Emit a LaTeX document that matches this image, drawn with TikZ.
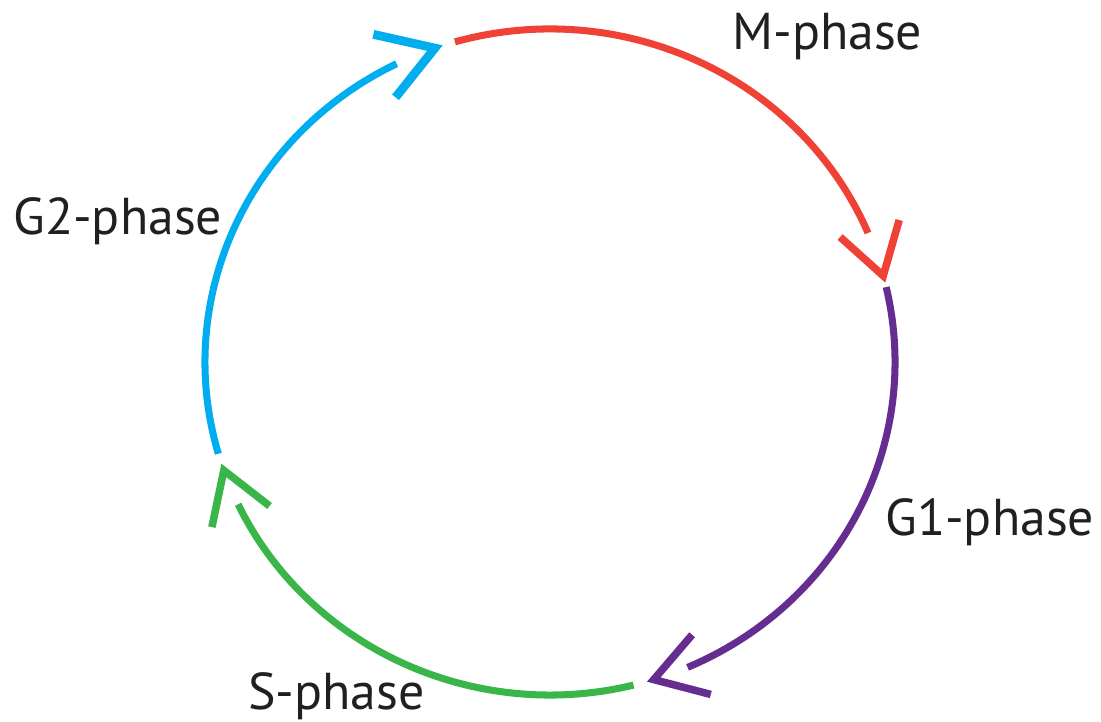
\documentclass[tikz,border=0pt]{standalone}
\usepackage{fontspec}
\setmainfont{PT Sans}
\usetikzlibrary{calc}
\definecolor{mred}{HTML}{EF4136}
\definecolor{gonepurple}{HTML}{662D91}
\definecolor{sgreen}{HTML}{39B54A}
\definecolor{gtwoblue}{HTML}{00AEEF}
\definecolor{labelink}{HTML}{231F20}
% open arrow head on the cycle: angle, arm length, colour
\newcommand{\phasetip}[3]{%
  \path (c) ++(#1:345 and 333) coordinate (tip)
        (c) ++(#1+1:345 and 333) coordinate (back);
  \draw[head, #3] ($(tip)!#2!32:(back)$) -- (tip) -- ($(tip)!#2!-32:(back)$);}
\begin{document}
\begin{tikzpicture}[x=0.02cm, y=0.02cm,
    phase/.style={line width=4pt},
    head/.style={line width=4.3pt, miter limit=10},
    phaselabel/.style={inner sep=0pt, anchor=base west, text=labelink,
      font=\fontsize{29.5}{35}\selectfont}]
  \useasboundingbox (0,0) rectangle (1101,722);
  \coordinate (c) at (550,360);
  % the four arcs
  \draw[phase, mred] (c) ++(106:345 and 333)
    arc[start angle=106, end angle=22.8, x radius=345, y radius=333];
  \draw[phase, gonepurple] (c) ++(13:345 and 333)
    arc[start angle=13, end angle=-66.5, x radius=345, y radius=333];
  \draw[phase, sgreen] (c) ++(-76:345 and 333)
    arc[start angle=-76, end angle=-154.7, x radius=345, y radius=333];
  \draw[phase, gtwoblue] (c) ++(-164:345 and 333)
    arc[start angle=-164, end angle=-243.6, x radius=345, y radius=333];
  % heads
  \phasetip{15}{1.16cm}{mred}
  \phasetip{-72.5}{1.18cm}{gonepurple}
  \phasetip{-161}{1.16cm}{sgreen}
  \phasetip{-250.5}{1.26cm}{gtwoblue, line width=5pt}
  % labels
  \node[phaselabel] (mlabel) at (732,672) {M-phase};
  \node[phaselabel] (gonelabel) at (885,186) {G1-phase};
  \node[phaselabel] (slabel) at (248,12) {S-phase};
  \node[phaselabel] (gtwolabel) at (13,487) {G2-phase};
\end{tikzpicture}
\end{document}
